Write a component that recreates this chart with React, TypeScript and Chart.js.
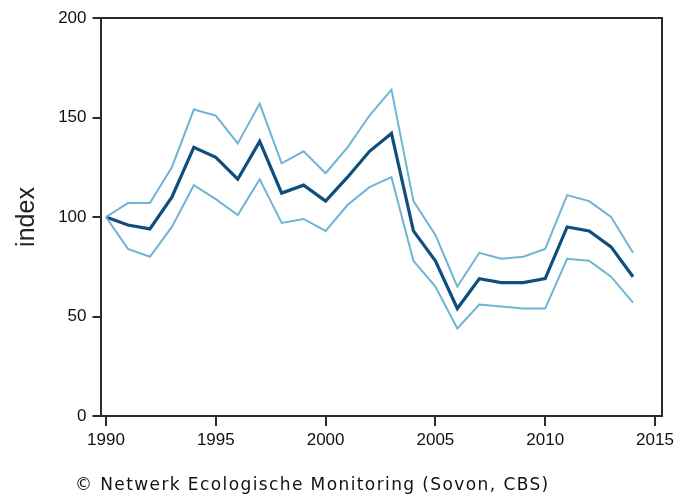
import React, { useEffect, useRef } from "react";
import { Chart, registerables } from "chart.js";

Chart.register(...registerables);

const years = [1990,1991,1992,1993,1994,1995,1996,1997,1998,1999,2000,2001,2002,2003,2004,2005,2006,2007,2008,2009,2010,2011,2012,2013,2014];
const indexValues = [100,96,94,110,135,130,119,138,112,116,108,120,133,142,93,78,54,69,67,67,69,95,93,85,70];
const upperValues = [100,107,107,125,154,151,137,157,127,133,122,135,151,164,108,91,65,82,79,80,84,111,108,100,82];
const lowerValues = [100,84,80,95,116,109,101,119,97,99,93,106,115,120,78,65,44,56,55,54,54,79,78,70,57];
const xTicks = [1990,1995,2000,2005,2010,2015];
const yTicks = [0,50,100,150,200];
const yTitle = "index";
const footerText = "© Netwerk Ecologische Monitoring (Sovon, CBS)";

const toPoints = (vals: number[]) => vals.map((v, i) => ({ x: years[i], y: v }));

export default function App() {
  const ref = useRef<HTMLCanvasElement | null>(null);
  useEffect(() => {
    document.body.style.margin = "0";
    const canvas = ref.current!;
    const frame = {
      id: "frame",
      afterDraw(chart: any) {
        const { ctx, chartArea } = chart;
        ctx.save();
        ctx.strokeStyle = "#2a2a2a";
        ctx.lineWidth = 2;
        ctx.beginPath();
        ctx.moveTo(chartArea.left, chartArea.top);
        ctx.lineTo(chartArea.right, chartArea.top);
        ctx.lineTo(chartArea.right, chartArea.bottom);
        ctx.stroke();
        ctx.fillStyle = "#111";
        ctx.font = "17px 'DejaVu Sans'";
        (ctx as any).letterSpacing = "1.4px";
        ctx.textBaseline = "alphabetic";
        ctx.textAlign = "left";
        ctx.fillText(footerText, 75, 490);
        ctx.restore();
      },
    };
    const chart = new Chart(canvas, {
      type: "line",
      data: {
        datasets: [
          { label: "upper", data: toPoints(upperValues), borderColor: "#6fb4d4", borderWidth: 2, pointRadius: 0, fill: false, tension: 0 },
          { label: "lower", data: toPoints(lowerValues), borderColor: "#6fb4d4", borderWidth: 2, pointRadius: 0, fill: false, tension: 0 },
          { label: "index", data: toPoints(indexValues), borderColor: "#0e4f7e", borderWidth: 3.2, pointRadius: 0, fill: false, tension: 0 },
        ],
      },
      options: {
        animation: false,
        responsive: false,
        maintainAspectRatio: false,
        layout: { padding: { left: 0, right: 19, top: 18, bottom: 0 } },
        plugins: { legend: { display: false }, tooltip: { enabled: false }, title: { display: false } },
        scales: {
          x: {
            type: "linear",
            min: 1989.75,
            max: 2015.32,
            afterBuildTicks: (s: any) => { s.ticks = xTicks.map((v) => ({ value: v })); },
            afterFit: (s: any) => { s.height = 81; },
            grid: { display: true, drawOnChartArea: false, tickLength: 10, color: "#2a2a2a", lineWidth: 2 },
            border: { display: true, color: "#2a2a2a", width: 2 },
            ticks: { color: "#111", font: { family: "'Liberation Sans', Arial", size: 17 }, padding: 4, maxRotation: 0, autoSkip: false, callback: (v: any) => String(v) },
          },
          y: {
            min: 0,
            max: 200,
            afterBuildTicks: (s: any) => { s.ticks = yTicks.map((v) => ({ value: v })); },
            afterFit: (s: any) => { s.width = 100.5; },
            grid: { display: true, drawOnChartArea: false, tickLength: 8, color: "#2a2a2a", lineWidth: 2 },
            border: { display: true, color: "#2a2a2a", width: 2 },
            ticks: { color: "#111", font: { family: "'Liberation Sans', Arial", size: 17 }, padding: 6, autoSkip: false },
            title: { display: true, text: yTitle, color: "#222", font: { family: "'Liberation Sans', Arial", size: 25 }, padding: { top: 12, bottom: 0 } },
          },
        },
      },
      plugins: [frame],
    } as any);
    return () => chart.destroy();
  }, []);
  return (
    <div style={{ width: 681, height: 497, position: "relative" }}>
      <canvas ref={ref} width={681} height={497} style={{ display: "block", width: 681, height: 497 }} />
    </div>
  );
}
